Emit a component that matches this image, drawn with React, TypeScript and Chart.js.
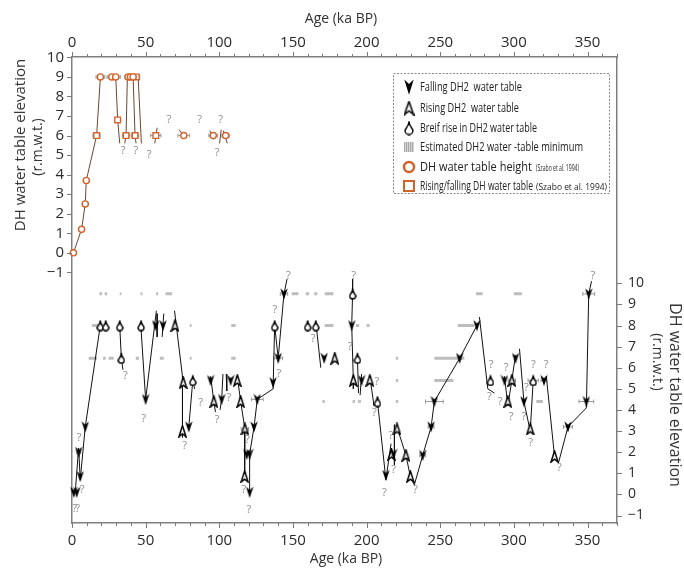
import React, { useEffect, useRef } from 'react';
import { Chart, registerables } from 'chart.js';

Chart.register(...registerables);

// ---------------- axes ----------------
const AGE_MAX = 370;
const AGE_LABELS = [0, 50, 100, 150, 200, 250, 300, 350];
const ELEV_LABELS = [-1, 0, 1, 2, 3, 4, 5, 6, 7, 8, 9, 10];

// ---------------- upper panel: DH (Szabo et al. 1994), left axis ----------------
const dhHeightAge = [1, 6.5, 9, 9.7, 19.3, 27, 29.7, 38.1, 39.7, 41.5, 75.9, 95.9, 104.3];
const dhHeightVal = [0, 1.2, 2.5, 3.7, 9, 9, 9, 9, 9, 9, 6, 6, 6];
const dhRiseFallAge = [16.7, 31, 36.7, 42.8, 43.7, 56.9];
const dhRiseFallVal = [6, 6.8, 6, 6, 9, 6];
const dhPaths: [number, number][][] = [
  [[1, 0], [6.5, 1.2], [9, 2.5], [9.7, 3.7], [16.7, 6], [19.3, 9]],
  [[29.7, 9], [31, 6.8], [32.4, 5.6]],
  [[35.8, 5.6], [36.7, 6], [37.6, 9]],
  [[41.5, 9], [42.8, 6], [43.5, 5.6]],
  [[44.9, 9], [47.1, 5.6]],
  [[56.2, 5.6], [57.8, 6.4]],
  [[72.8, 6.3], [75, 6.05]],
  [[93.6, 6.25], [96.3, 5.8]],
  [[100.2, 5.6], [101.3, 6.3]],
  [[102.7, 6.25], [105.4, 5.6]],
];
const dhErrAge = [1, 16.7, 19.3, 28.3, 41, 36.7, 42.8, 56.9, 75.9, 95.9, 104.3];
const dhErrVal = [0, 6, 9, 9, 9, 6, 6, 6, 6, 6, 6];
const dhErrHalf = [1.5, 2.5, 3, 4.5, 5, 2.5, 2.5, 3.5, 4, 3, 2.5];
const dhQAge = [34.7, 43.3, 52.4, 65.7, 86.6, 100.9, 98.6];
const dhQVal = [5.2, 5.2, 5.0, 6.8, 6.8, 6.8, 5.1];

// ---------------- lower panel: DH2, right axis ----------------
const dh2FallAge = [1.2, 3.2, 4.5, 5.6, 9.0, 50, 56.8, 61.8, 79.3, 94.1, 101.6, 107.7, 118.6, 120.6, 120.6, 123.6, 125.8, 136.5, 140, 143.9, 171.2, 189.9, 196.6, 213.1, 218.3, 238.1, 243.8, 246, 263.2, 274.9, 293.6, 301.1, 306.8, 320.4, 336.7, 349.2, 350.8];
const dh2FallVal = [0.1, 0.1, 2.0, 0.85, 3.2, 4.5, 8.0, 8.0, 3.2, 5.4, 4.5, 5.4, 1.9, 1.9, 0.1, 3.2, 4.5, 5.3, 6.45, 9.5, 6.45, 8.0, 5.4, 0.9, 1.9, 1.85, 3.2, 4.4, 6.45, 8.0, 5.4, 6.45, 4.4, 5.4, 3.2, 4.4, 9.5];
const dh2RiseAge = [69.9, 75.5, 75, 96.3, 112.2, 114.5, 117.4, 117.2, 178.4, 191, 202.2, 216.9, 220.6, 226.7, 229.7, 295.9, 298.6, 311.1, 327.6];
const dh2RiseVal = [8.0, 5.3, 3.0, 4.4, 5.4, 4.4, 3.1, 0.85, 6.45, 5.4, 5.4, 1.9, 3.1, 1.85, 0.85, 4.4, 5.4, 3.1, 1.8];
const dh2BriefAge = [19.2, 22.9, 32.4, 33.5, 46.9, 82, 137.6, 160, 165.5, 190.5, 193.8, 207.4, 284.1, 313.1];
const dh2BriefVal = [8, 8, 8, 6.45, 8, 5.4, 8, 8, 8, 9.5, 6.45, 4.4, 5.4, 5.4];
const dh2Paths: [number, number][][] = [
  [[2.2, 0.1], [4.5, 2.2], [5.6, 0.7], [9.0, 3.2], [19.2, 8.0]],
  [[32.4, 8], [33.5, 6.45], [34.6, 5.9]],
  [[46.9, 7.8], [50, 4.5], [57.3, 8.7]],
  [[57.8, 8.56], [57.8, 7.46]],
  [[62.3, 8.56], [61.2, 7.46]],
  [[69.6, 8.7], [75.5, 5.3]],
  [[75.0, 5.4], [75.0, 2.7]],
  [[79.3, 3.2], [82, 5.4], [83.2, 5.0]],
  [[94.1, 5.6], [96.3, 4.4], [97.4, 3.9]],
  [[100.5, 4.0], [101.6, 4.5], [102.5, 5.7]],
  [[104.7, 5.7], [105.1, 4.9]],
  [[112.2, 5.6], [114.5, 4.4], [117.4, 3.1], [117.2, 0.85]],
  [[120.6, 0.1], [120.6, 1.9], [123.6, 3.2], [125.8, 4.5], [136.5, 5.0], [136.6, 5.3], [137.6, 8.0], [140, 6.45], [143.9, 9.5], [146, 10.2]],
  [[165.8, 8], [168.9, 6.0]],
  [[190.5, 10.2], [190.5, 9.5], [189.9, 8.0], [191, 5.4], [191, 5.0]],
  [[193.8, 6.45], [194.5, 4.8]],
  [[196.6, 5.7], [195.6, 4.7]],
  [[202.2, 5.6], [205, 4.2], [207.4, 4.4], [213.1, 0.7]],
  [[213.1, 0.7], [216.6, 2.4]],
  [[218.9, 3.3], [218.9, 1.4]],
  [[220.6, 3.2], [226.7, 1.85], [229.7, 0.85], [232.4, 0.45], [238.1, 1.85], [243.8, 3.2], [246, 4.4], [263.2, 6.45], [274.9, 8.0]],
  [[276.6, 8.4], [282.3, 5.0], [286.8, 4.8]],
  [[293.6, 5.6], [295.9, 4.2], [298.6, 5.4], [301.1, 6.6]],
  [[303.8, 6.9], [306.8, 4.4], [311.1, 3.0], [313.1, 5.4]],
  [[322, 5.6], [327.6, 1.8], [330.3, 1.5], [336.7, 3.2], [349.2, 4.1], [350.8, 9.5], [352.7, 10.1]],
];
const estMinStart = [18.6, 22.2, 32.4, 46.5, 57.1, 63.5, 149.2, 158.7, 164.4, 171.6, 274.3, 300, 13.6, 80, 108.1, 171.6, 192.7, 200.1, 261.9, 11.3, 21.1, 24.9, 43.3, 59.6, 80, 108.1, 219.9, 246, 219.9, 246, 170, 190.5, 194.3, 219.9, 315.2];
const estMinEnd = [20.4, 23.8, 33.5, 47.8, 58.5, 68, 153.7, 161, 166.6, 177.5, 278.8, 305.4, 17.7, 81.2, 111.1, 177.5, 195, 202, 273.2, 17, 22.9, 28.3, 45.5, 62.3, 81.2, 111.1, 221.5, 266.4, 221.5, 258.9, 171.6, 192.1, 196.1, 221.5, 319.7];
const estMinVal = [9.5, 9.5, 9.5, 9.5, 9.5, 9.5, 9.5, 9.5, 9.5, 9.5, 9.5, 9.5, 8, 8, 8, 8, 8, 8, 8, 6.45, 6.45, 6.45, 6.45, 6.45, 6.45, 6.45, 6.45, 6.45, 5.4, 5.4, 4.4, 4.4, 4.4, 4.4, 4.4];
const dh2ErrAge = [125.8, 140, 143.9, 246, 238.1, 243.8, 117.4, 298.6, 313.1, 320.4, 336.7, 349.2, 350.8, 4.5];
const dh2ErrVal = [4.5, 6.45, 9.5, 4.4, 1.85, 3.2, 3.1, 5.4, 5.4, 5.4, 3.2, 4.4, 9.5, 2.0];
const dh2ErrHalf = [4, 3, 2.5, 6, 2, 2, 2.5, 2.5, 3.5, 2, 3, 5, 4, 1.5];
const dh2QAge = [1.8, 3.8, 4.9, 6.8, 36.3, 48.7, 76.4, 87.3, 98.6, 106.5, 116.7, 120.1, 119, 137.8, 140.5, 146.9, 163.7, 188.9, 191.2, 207, 205.2, 212, 216.4, 218.3, 233.1, 284.6, 283.4, 290.7, 294.7, 298.2, 306.8, 308.4, 311.3, 313.3, 321.9, 330.9, 353.7];
const dh2QVal = [-0.7, -0.7, 2.66, 0.2, 5.6, 3.56, 2.3, 4.35, 3.53, 4.55, 0.23, -0.72, 2.58, 8.75, 5.73, 10.37, 7.38, 6.99, 10.37, 5.34, 3.87, 0.07, 2.77, 1.14, 0.2, 6.12, 4.6, 4.4, 6.0, 3.68, 3.68, 5.07, 2.43, 6.12, 6.12, 1.25, 10.37];

// ---------------- legend ----------------
const legendLabels = [
  'Falling DH2  water table',
  'Rising DH2  water table',
  'Breif rise in DH2 water table',
  'Estimated DH2 water -table minimum',
  'DH water table height',
  'Rising/falling DH water table',
];
const legendCitation = '(Szabo et al. 1994)';

// ---------------- styles ----------------
const FONT = '"Open Sans", "Noto Sans", sans-serif';
const ORANGE = '#d2622c';
const BROWN = '#6e4534';
const AXIS = '#808080';
const GREYQ = '#8c8c8c';

function mk(w: number, h: number, draw: (c: CanvasRenderingContext2D) => void) {
  const c = document.createElement('canvas');
  c.width = w;
  c.height = h;
  draw(c.getContext('2d') as CanvasRenderingContext2D);
  return c;
}
function fallingIcon(w: number, h: number) {
  return mk(w, h, (c) => {
    c.beginPath();
    c.moveTo(w / 2, h - 0.3);
    c.lineTo(0.3, 0.5);
    c.lineTo(w / 2, h * 0.32);
    c.lineTo(w - 0.3, 0.5);
    c.closePath();
    c.fillStyle = '#000';
    c.fill();
  });
}
function risingIcon(w: number, h: number) {
  return mk(w, h, (c) => {
    c.beginPath();
    c.moveTo(w / 2, 1);
    c.lineTo(w - 1, h - 1);
    c.lineTo(w / 2, h * 0.7);
    c.lineTo(1, h - 1);
    c.closePath();
    c.fillStyle = '#fff';
    c.fill();
    c.lineWidth = 1.5;
    c.strokeStyle = '#000';
    c.stroke();
  });
}
function briefIcon(w: number, h: number) {
  return mk(w, h, (c) => {
    const r = w / 2 - 1;
    const cy = h - 1 - r;
    c.beginPath();
    c.moveTo(w / 2, 0.8);
    c.bezierCurveTo(w / 2, cy - r * 0.9, 1, cy - r * 0.5, 1, cy);
    c.arc(w / 2, cy, r, Math.PI, 0, true);
    c.bezierCurveTo(w - 1, cy - r * 0.5, w / 2, cy - r * 0.9, w / 2, 0.8);
    c.closePath();
    c.fillStyle = '#fff';
    c.fill();
    c.lineWidth = 1.4;
    c.strokeStyle = '#000';
    c.stroke();
  });
}

const pts = (xs: number[], ys: number[]) => xs.map((x, i) => ({ x, y: ys[i] }));
const joinPaths = (paths: [number, number][][]) => {
  const out: any[] = [];
  paths.forEach((p, i) => {
    if (i) out.push({ x: p[0][0], y: null });
    p.forEach(([x, y]) => out.push({ x, y }));
  });
  return out;
};
const segs = (s: number[], e: number[], v: number[]) => {
  const out: any[] = [];
  s.forEach((a, i) => {
    out.push({ x: a, y: v[i] }, { x: e[i], y: v[i] }, { x: e[i], y: null });
  });
  return out;
};
const minus = (v: number) => (v < 0 ? '\u2212' + Math.abs(v) : String(v));

export default function App() {
  const ref = useRef<HTMLCanvasElement>(null);
  useEffect(() => {
    const canvas = ref.current as HTMLCanvasElement;
    const fall = fallingIcon(8, 12);
    const rise = risingIcon(9, 13);
    const brief = briefIcon(8, 12);
    const fallL = fallingIcon(10, 16);
    const riseL = risingIcon(11, 15);
    const briefL = briefIcon(10, 15);

    const drawErr = (ctx: any, xs: any, ys: any, ages: number[], vals: number[], half: number[]) => {
      ctx.save();
      ctx.strokeStyle = '#9a9a9a';
      ctx.lineWidth = 1;
      ages.forEach((a, i) => {
        const x0 = xs.getPixelForValue(a - half[i]);
        const x1 = xs.getPixelForValue(a + half[i]);
        const y = ys.getPixelForValue(vals[i]);
        ctx.beginPath();
        ctx.moveTo(x0, y);
        ctx.lineTo(x1, y);
        ctx.moveTo(x0, y - 2);
        ctx.lineTo(x0, y + 2);
        ctx.moveTo(x1, y - 2);
        ctx.lineTo(x1, y + 2);
        ctx.stroke();
      });
      ctx.restore();
    };
    const drawQ = (ctx: any, xs: any, ys: any, ages: number[], vals: number[]) => {
      ctx.save();
      ctx.fillStyle = GREYQ;
      ctx.font = '11px ' + FONT;
      ctx.textAlign = 'center';
      ctx.textBaseline = 'middle';
      ages.forEach((a, i) => ctx.fillText('?', xs.getPixelForValue(a), ys.getPixelForValue(vals[i])));
      ctx.restore();
    };
    const fitText = (ctx: any, text: string, x: number, y: number, w: number) => {
      const m = ctx.measureText(text).width;
      ctx.save();
      ctx.translate(x, y);
      ctx.scale(w / m, 1);
      ctx.fillText(text, 0, 0);
      ctx.restore();
    };

    const decor = {
      id: 'decor',
      beforeDatasetsDraw(chart: any) {
        const { ctx, scales } = chart;
        drawErr(ctx, scales.x, scales.yL, dhErrAge, dhErrVal, dhErrHalf);
        drawErr(ctx, scales.x, scales.yR, dh2ErrAge, dh2ErrVal, dh2ErrHalf);
      },
      afterDatasetsDraw(chart: any) {
        const { ctx, scales } = chart;
        drawQ(ctx, scales.x, scales.yL, dhQAge, dhQVal);
        drawQ(ctx, scales.x, scales.yR, dh2QAge, dh2QVal);
      },
      afterDraw(chart: any) {
        const { ctx, scales, chartArea: a } = chart;
        ctx.save();
        // tick marks
        ctx.strokeStyle = '#7a7a7a';
        ctx.lineWidth = 1;
        ctx.beginPath();
        for (let v = 0; v <= AGE_MAX; v += 10) {
          const px = Math.round(scales.x.getPixelForValue(v)) + 0.5;
          const len = v % 50 === 0 ? 5 : 3;
          ctx.moveTo(px, a.bottom);
          ctx.lineTo(px, a.bottom + len);
          ctx.moveTo(px, a.top);
          ctx.lineTo(px, a.top - len);
        }
        ELEV_LABELS.forEach((v) => {
          const yl = Math.round(scales.yL.getPixelForValue(v)) + 0.5;
          ctx.moveTo(a.left - 5, yl);
          ctx.lineTo(a.left, yl);
          const yr = Math.round(scales.yR.getPixelForValue(v)) + 0.5;
          ctx.moveTo(a.right, yr);
          ctx.lineTo(a.right + 5, yr);
        });
        ctx.stroke();

        // axis titles
        ctx.fillStyle = '#333';
        ctx.textAlign = 'center';
        ctx.textBaseline = 'middle';
        ctx.font = '14px ' + FONT;
        ctx.fillText('Age (ka BP)', 341, 19);
        ctx.fillText('Age (ka BP)', 346, 559);
        const rot = (text: string, x: number, y: number, ang: number, size: number) => {
          ctx.save();
          ctx.translate(x, y);
          ctx.rotate(ang);
          ctx.font = size + 'px ' + FONT;
          ctx.fillText(text, 0, 0);
          ctx.restore();
        };
        rot('DH water table elevation', 21, 145, -Math.PI / 2, 15);
        rot('(r.m.w.t.)', 38, 147, -Math.PI / 2, 14);
        rot('DH water table elevation', 675, 395, Math.PI / 2, 16);
        rot('(r.m.w.t.)', 657, 362, Math.PI / 2, 14);

        // legend
        ctx.setLineDash([2, 1.5]);
        ctx.strokeStyle = '#888';
        ctx.strokeRect(393.5, 73.5, 216, 120);
        ctx.setLineDash([]);
        const ix = 409;
        const rows = [87, 108, 128, 147, 167, 186];
        ctx.drawImage(fallL, ix - 5, rows[0] - 8);
        ctx.drawImage(riseL, ix - 5.5, rows[1] - 7.5);
        ctx.drawImage(briefL, ix - 5, rows[2] - 7.5);
        ctx.fillStyle = '#d6d6d6';
        ctx.fillRect(404, rows[3] - 5, 10, 10);
        ctx.fillStyle = '#a8a8a8';
        for (let i = 0; i < 5; i++) ctx.fillRect(404 + i * 2, rows[3] - 5, 1, 10);
        ctx.strokeStyle = ORANGE;
        ctx.lineWidth = 2.5;
        ctx.beginPath();
        ctx.arc(ix, rows[4], 5, 0, Math.PI * 2);
        ctx.stroke();
        ctx.lineWidth = 2;
        ctx.strokeRect(ix - 5, rows[5] - 5, 10, 10);
        ctx.fillStyle = '#222';
        ctx.textAlign = 'left';
        ctx.font = '13px ' + FONT;
        const widths = [102, 99, 117, 163, 112, 113];
        legendLabels.forEach((t, i) => fitText(ctx, t, 420, rows[i], widths[i]));
        ctx.font = '9px ' + FONT;
        fitText(ctx, legendCitation, 536, rows[4] + 1, 43);
        fitText(ctx, legendCitation, 536, rows[5] + 1, 71);
        ctx.restore();
      },
    };

    const xAxis = (pos: string, h: number, pad: number) => ({
      type: 'linear',
      position: pos,
      min: 0,
      max: AGE_MAX,
      afterBuildTicks: (s: any) => {
        s.ticks = AGE_LABELS.map((v) => ({ value: v }));
      },
      afterFit: (s: any) => {
        s.height = h;
        s.paddingLeft = 0;
        s.paddingRight = 0;
      },
      grid: { display: false, drawTicks: false },
      border: { display: true, color: AXIS, width: 1.5 },
      ticks: {
        padding: pad,
        autoSkip: false,
        maxRotation: 0,
        color: '#2a2a2a',
        font: { family: FONT, size: 15 },
        callback: (v: number) => String(v),
      },
    });
    const yAxis = (pos: string, min: number, max: number, w: number, pad: number, size: number) => ({
      type: 'linear',
      position: pos,
      min,
      max,
      afterBuildTicks: (s: any) => {
        s.ticks = ELEV_LABELS.map((v) => ({ value: v }));
      },
      afterFit: (s: any) => {
        s.width = w;
        s.paddingTop = 0;
        s.paddingBottom = 0;
      },
      grid: { display: false, drawTicks: false },
      border: { display: true, color: AXIS, width: 1.5 },
      ticks: {
        padding: pad,
        autoSkip: false,
        color: '#2a2a2a',
        font: { family: FONT, size },
        callback: (v: number) => minus(v),
      },
    });

    const markerDs = (data: any[], style: any, order: number) => ({
      data,
      xAxisID: 'x',
      yAxisID: 'yR',
      showLine: false,
      pointStyle: style,
      pointRadius: 5,
      pointHoverRadius: 5,
      clip: false,
      order,
    });

    const chart = new Chart(canvas, {
      type: 'line',
      data: {
        datasets: [
          // lower panel
          markerDs(pts(dh2FallAge, dh2FallVal), fall, 1),
          markerDs(pts(dh2RiseAge, dh2RiseVal), rise, 1),
          markerDs(pts(dh2BriefAge, dh2BriefVal), brief, 1),
          {
            data: joinPaths(dh2Paths),
            xAxisID: 'x',
            yAxisID: 'yR',
            borderColor: '#111',
            borderWidth: 1,
            pointRadius: 0,
            spanGaps: false,
            tension: 0,
            order: 5,
          },
          {
            data: segs(estMinStart, estMinEnd, estMinVal),
            xAxisID: 'x',
            yAxisID: 'yR',
            borderColor: '#bdbdbd',
            borderWidth: 3,
            borderCapStyle: 'butt',
            pointRadius: 0,
            spanGaps: false,
            order: 8,
          },
          // upper panel
          {
            data: pts(dhHeightAge, dhHeightVal),
            xAxisID: 'x',
            yAxisID: 'yL',
            showLine: false,
            pointStyle: 'circle',
            pointRadius: 3.1,
            pointBorderWidth: 1.4,
            pointBorderColor: ORANGE,
            pointBackgroundColor: '#fff',
            clip: false,
            order: 1,
          },
          {
            data: pts(dhRiseFallAge, dhRiseFallVal),
            xAxisID: 'x',
            yAxisID: 'yL',
            showLine: false,
            pointStyle: 'rect',
            pointRadius: 4,
            pointBorderWidth: 1.4,
            pointBorderColor: ORANGE,
            pointBackgroundColor: '#fff',
            clip: false,
            order: 1,
          },
          {
            data: joinPaths(dhPaths),
            xAxisID: 'x',
            yAxisID: 'yL',
            borderColor: BROWN,
            borderWidth: 1,
            pointRadius: 0,
            spanGaps: false,
            tension: 0,
            order: 5,
          },
        ],
      },
      options: {
        responsive: false,
        devicePixelRatio: 1,
        animation: false,
        events: [],
        layout: { padding: 0, autoPadding: false },
        plugins: { legend: { display: false }, tooltip: { enabled: false } },
        scales: {
          x: xAxis('bottom', 46, 9),
          x2: xAxis('top', 57, 5),
          yL: yAxis('left', -13.83, 10.02, 72, 8, 15),
          yR: yAxis('right', -1.355, 20.72, 67, 11, 14),
        },
      } as any,
      plugins: [decor],
    } as any);
    return () => chart.destroy();
  }, []);

  return (
    <div style={{ position: 'absolute', left: 0, top: 0, width: 684, height: 569, background: '#fff' }}>
      <canvas ref={ref} width={684} height={569} style={{ display: 'block', width: 684, height: 569 }} />
    </div>
  );
}
